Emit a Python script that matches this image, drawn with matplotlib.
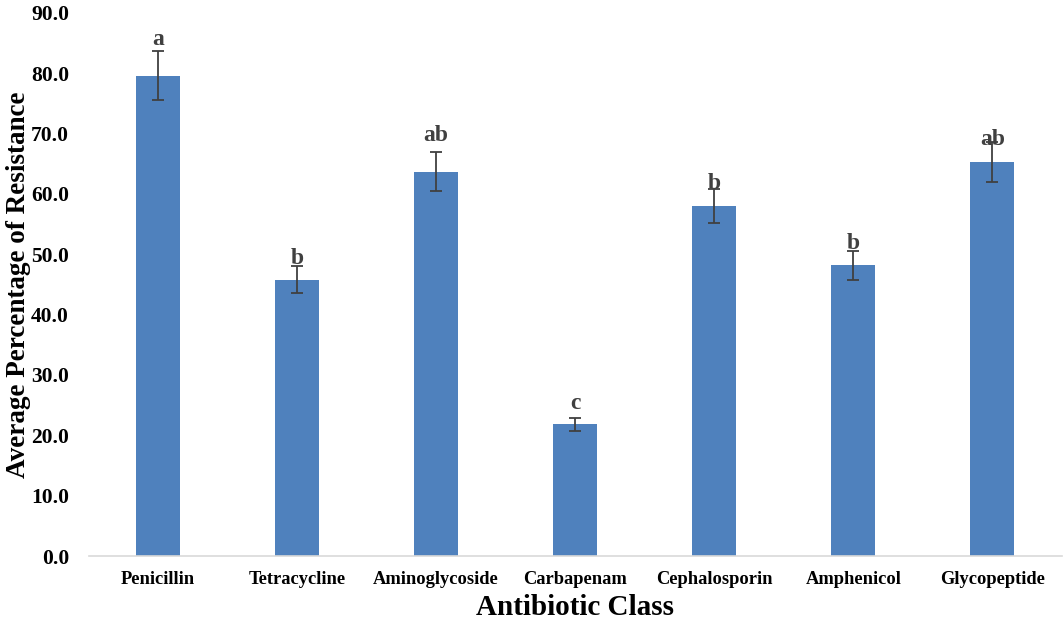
import numpy as np
import matplotlib
matplotlib.use("Agg")
import matplotlib.pyplot as plt

# data
classes = ["Penicillin", "Tetracycline", "Aminoglycoside", "Carbapenam",
           "Cephalosporin", "Amphenicol", "Glycopeptide"]
resistance = [79.6, 45.8, 63.7, 21.8, 58.0, 48.2, 65.3]
errors = [4.0, 2.3, 3.2, 1.1, 2.8, 2.4, 3.3]
letters = ["a", "b", "ab", "c", "b", "b", "ab"]

# gap (points) between error bar top and letter
letter_gap = [1.0, -2.4, 4.4, 2.7, -3.6, -2.4, -5.9]

plt.rcParams["font.family"] = ["Liberation Serif", "DejaVu Serif"]
plt.rcParams["font.weight"] = "bold"

fig = plt.figure(figsize=(10.63, 6.27), dpi=100)
ax = fig.add_axes([88.5 / 1063, 1 - 556 / 627, (1062 - 88.5) / 1063, (556 - 12.8) / 627])

x = np.arange(len(classes))
ax.bar(x, resistance, width=0.316, color="#4F81BD", zorder=2)
ax.errorbar(x, resistance, yerr=errors, fmt="none", ecolor="#404040",
            elinewidth=1.3, capsize=4, capthick=1.3, zorder=3)

for i in range(len(classes)):
    ax.annotate(letters[i], (x[i], resistance[i] + errors[i]),
                xytext=(0, letter_gap[i]), textcoords="offset points",
                ha="center", va="bottom", fontsize=17, fontweight="bold",
                color="#404040", zorder=4)

ax.set_xlim(-0.5, len(classes) - 0.5)
ax.set_ylim(0, 90)
ax.set_yticks(np.arange(0, 91, 10))
ax.set_yticklabels([f"{v:.1f}" for v in np.arange(0, 91, 10)], fontsize=15.5, fontweight="bold")
ax.set_xticks(x)
ax.set_xticklabels(classes, fontsize=13.3, fontweight="bold")
ax.tick_params(axis="both", length=0)
ax.tick_params(axis="x", pad=11)
ax.tick_params(axis="y", pad=14)

for side in ["top", "right", "left"]:
    ax.spines[side].set_visible(False)
ax.spines["bottom"].set_color("#D9D9D9")
ax.spines["bottom"].set_linewidth(1.2)

ax.set_xlabel("Antibiotic Class", fontsize=21, fontweight="bold", labelpad=4)
ax.set_ylabel("Average Percentage of Resistance", fontsize=19.5, fontweight="bold")
ax.yaxis.set_label_coords(-0.059, 0.5)

fig.savefig("out.png", dpi=100)
